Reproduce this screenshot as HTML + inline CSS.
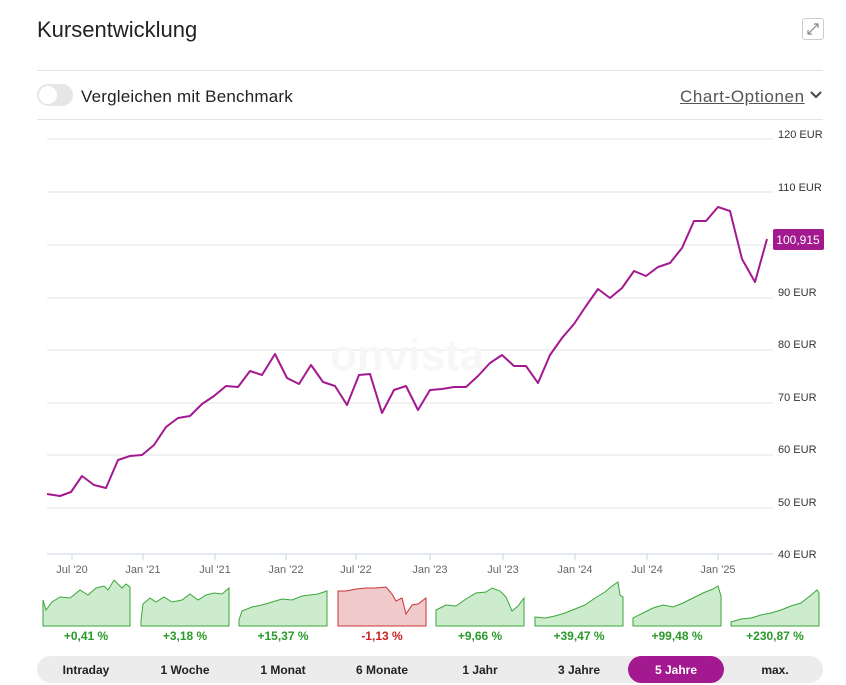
<!DOCTYPE html>
<html><head><meta charset="utf-8"><style>
body{margin:0;background:#fff;font-family:"Liberation Sans",sans-serif;color:#222;width:846px;height:685px;overflow:hidden;position:relative}
.a{position:absolute}
</style></head><body>
<div class="a" style="left:37px;top:17px;font-size:22px;color:#222">Kursentwicklung</div>
<div class="a" style="left:802px;top:18px;width:20px;height:20px;border:1px solid #ccc;border-radius:3px"></div>
<svg class="a" style="left:806px;top:22px" width="14" height="14"><path d="M2 12L12 2M8 2h4v4M2 8v4h4" stroke="#888" fill="none" stroke-width="1.2"/></svg>
<div class="a" style="left:37px;top:70px;width:786px;height:1px;background:#e5e5e5"></div>
<div class="a" style="left:37px;top:84px;width:36px;height:22px;border-radius:11px;background:#e6e6e6"></div>
<div class="a" style="left:39px;top:86px;width:18px;height:18px;border-radius:9px;background:#fff"></div>
<div class="a" style="left:81px;top:87px;font-size:17px;letter-spacing:0.2px">Vergleichen mit Benchmark</div>
<div class="a" style="left:680px;top:87px;font-size:17px;letter-spacing:0.6px;color:#555;text-decoration:underline">Chart-Optionen</div>
<svg class="a" style="left:810px;top:90px" width="12" height="10"><path d="M1 2l5 5 5-5" stroke="#444" fill="none" stroke-width="2"/></svg>
<div class="a" style="left:37px;top:119px;width:786px;height:1px;background:#e5e5e5"></div>
<svg class="a" style="left:0;top:0" width="846" height="685" font-family="Liberation Sans, sans-serif">
<g stroke="#e3e3e3" stroke-width="1">
<line x1="47" x2="773" y1="139" y2="139"/><line x1="47" x2="773" y1="192" y2="192"/><line x1="47" x2="773" y1="245" y2="245"/><line x1="47" x2="773" y1="298" y2="298"/><line x1="47" x2="773" y1="350" y2="350"/><line x1="47" x2="773" y1="403" y2="403"/><line x1="47" x2="773" y1="455" y2="455"/><line x1="47" x2="773" y1="508" y2="508"/>
</g>
<line x1="47" x2="773" y1="554" y2="554" stroke="#c8d3e6"/>
<g stroke="#c8d3e6"><line x1="72" x2="72" y1="554" y2="560"/><line x1="143" x2="143" y1="554" y2="560"/><line x1="215" x2="215" y1="554" y2="560"/><line x1="286" x2="286" y1="554" y2="560"/><line x1="356" x2="356" y1="554" y2="560"/><line x1="430" x2="430" y1="554" y2="560"/><line x1="503" x2="503" y1="554" y2="560"/><line x1="575" x2="575" y1="554" y2="560"/><line x1="647" x2="647" y1="554" y2="560"/><line x1="718" x2="718" y1="554" y2="560"/></g>
<g font-size="11" fill="#333"><text x="778" y="138">120 EUR</text><text x="778" y="191">110 EUR</text><text x="778" y="296">90 EUR</text><text x="778" y="348">80 EUR</text><text x="778" y="401">70 EUR</text><text x="778" y="453">60 EUR</text><text x="778" y="506">50 EUR</text><text x="778" y="558">40 EUR</text></g>
<g font-size="11" fill="#666" text-anchor="middle"><text x="72" y="573">Jul '20</text><text x="143" y="573">Jan '21</text><text x="215" y="573">Jul '21</text><text x="286" y="573">Jan '22</text><text x="356" y="573">Jul '22</text><text x="430" y="573">Jan '23</text><text x="503" y="573">Jul '23</text><text x="575" y="573">Jan '24</text><text x="647" y="573">Jul '24</text><text x="718" y="573">Jan '25</text></g>
<text x="330" y="370" font-size="44" font-weight="bold" fill="#f7f7f7">onvista</text>
<polyline fill="none" stroke="#a3198f" stroke-width="2" stroke-linejoin="round" points="47,494 60,496 71,492 82,476 94,485 106,488 118,460 130,456 142,455 154,445 166,427 178,418 190,416 202,404 214,396 226,386 238,387 250,371 262,375 275,354 287,378 299,384 311,365 323,382 335,386 347,405 359,375 370,374 382,413 394,390 406,386 418,410 430,390 442,389 454,387 466,387 478,376 490,363 502,355 514,366 526,366 538,383 550,355 562,338 574,324 586,306 598,289 610,298 622,288 634,271 646,276 658,267 670,263 682,248 694,221 706,221 718,207 730,211 742,259 755,282 767,239"/>
<rect x="773" y="229" width="51" height="21" rx="2" fill="#a3198f"/>
<text x="798" y="244" font-size="12" fill="#fff" text-anchor="middle">100,915</text>
<g stroke-width="1">
<polygon fill="#cdebcd" stroke="#3aa63a" points="43,600 46,610 52,602 60,597 70,598 80,590 88,595 96,588 104,586 108,590 114,580 122,588 126,584 130,587 130,626 43,626"/>
<polygon fill="#cdebcd" stroke="#3aa63a" points="141,620 143,604 150,598 156,602 164,597 172,602 182,600 190,594 198,600 206,595 214,593 222,594 229,588 229,626 141,626"/>
<polygon fill="#cdebcd" stroke="#3aa63a" points="239,620 242,611 252,607 262,605 272,602 282,599 292,600 302,596 310,595 318,594 327,591 327,626 239,626"/>
<polygon fill="#f0caca" stroke="#cc3333" points="338,591 346,591 356,589 366,588 376,588 386,587 392,594 396,601 402,598 406,614 412,605 418,604 426,598 426,626 338,626"/>
<polygon fill="#cdebcd" stroke="#3aa63a" points="436,610 446,605 456,606 466,599 476,593 486,592 492,588 500,591 506,597 512,611 518,606 524,598 524,626 436,626"/>
<polygon fill="#cdebcd" stroke="#3aa63a" points="535,617 545,618 555,616 565,613 575,609 585,605 595,598 605,592 612,586 618,582 620,595 623,597 623,626 535,626"/>
<polygon fill="#cdebcd" stroke="#3aa63a" points="633,618 643,613 653,608 663,605 673,607 683,603 693,598 703,593 713,589 718,586 721,596 721,626 633,626"/>
<polygon fill="#cdebcd" stroke="#3aa63a" points="731,622 741,619 751,618 761,615 771,613 781,610 791,606 801,603 811,595 817,590 819,593 819,626 731,626"/>
</g>
<g font-size="12" font-weight="bold" text-anchor="middle" fill="#2a9a2a"><text x="86" y="640">+0,41 %</text><text x="185" y="640">+3,18 %</text><text x="283" y="640">+15,37 %</text><text x="382" y="640" fill="#cc2222">-1,13 %</text><text x="480" y="640">+9,66 %</text><text x="579" y="640">+39,47 %</text><text x="677" y="640">+99,48 %</text><text x="775" y="640">+230,87 %</text></g>
<rect x="37" y="656" width="786" height="27" rx="13.5" fill="#ececec"/>
<rect x="628" y="656" width="96" height="27" rx="13.5" fill="#a3198f"/>
<g font-size="12" font-weight="bold" text-anchor="middle" fill="#222"><text x="86" y="674">Intraday</text><text x="185" y="674">1 Woche</text><text x="283" y="674">1 Monat</text><text x="382" y="674">6 Monate</text><text x="480" y="674">1 Jahr</text><text x="579" y="674">3 Jahre</text><text x="676" y="674" fill="#fff">5 Jahre</text><text x="775" y="674">max.</text></g>
</svg>
</body></html>
